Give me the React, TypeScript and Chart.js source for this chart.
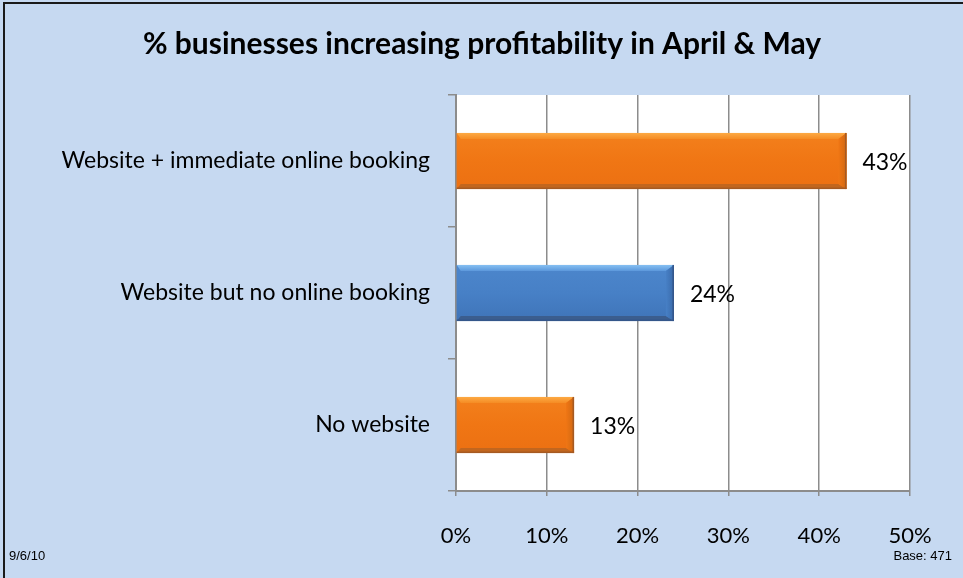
import React, { useEffect, useRef } from "react";
import { Chart, registerables } from "chart.js";

Chart.register(...registerables);

const TITLE = "% businesses increasing profitability in April & May";
const CATEGORIES = [
  "Website + immediate online booking",
  "Website but no online booking",
  "No website",
];
const VALUES = [43, 24, 13];
const BAR_THEMES = ["orange", "blue", "orange"];
const X_TICKS = [0, 10, 20, 30, 40, 50];
const DATE_NOTE = "9/6/10";
const BASE_NOTE = "Base: 471";

const THEMES: Record<string, any> = {
  orange: {
    body: "#F07614",
    bodyTop: "#F3801C",
    bodyBottom: "#EC7012",
    topA: "#FDAA44",
    topB: "#F58C24",
    right: "#D06812",
    bottom: "#C2661E",
    outline: "#A65A22",
  },
  blue: {
    body: "#4780C6",
    bodyTop: "#4C86CC",
    bodyBottom: "#3F74B8",
    topA: "#86C0F2",
    topB: "#5C98DC",
    right: "#3A6AAA",
    bottom: "#3B5D8E",
    outline: "#34568A",
  },
};

const BG = "#C6D9F1";

export default function App() {
  const canvasRef = useRef<HTMLCanvasElement | null>(null);

  useEffect(() => {
    document.body.style.margin = "0";
    document.body.style.background = BG;
    const canvas = canvasRef.current;
    if (!canvas) return;

    const decor = {
      id: "decor",
      beforeDraw(chart: any) {
        const { ctx } = chart;
        const xs = chart.scales.x;
        const ys = chart.scales.y;
        ctx.save();
        ctx.fillStyle = BG;
        ctx.fillRect(0, 0, chart.width, chart.height);
        ctx.fillStyle = "#FFFFFF";
        const l = xs.getPixelForValue(0);
        const r = xs.getPixelForValue(50);
        ctx.fillRect(l, ys.top, r - l, ys.bottom - ys.top);
        // outer frame (top & left visible)
        ctx.fillStyle = "#1A1A1A";
        ctx.fillRect(3, 2, chart.width, 2);
        ctx.fillRect(3, 2, 2, chart.height);
        ctx.restore();
      },
      afterDatasetsDraw(chart: any) {
        const { ctx } = chart;
        const meta = chart.getDatasetMeta(0);
        ctx.save();
        meta.data.forEach((el: any, i: number) => {
          const p = el.getProps(["x", "y", "base", "height"], true);
          const th = THEMES[BAR_THEMES[i]];
          const L = Math.min(p.base, p.x);
          const R = Math.max(p.base, p.x);
          const T = p.y - p.height / 2;
          const B = p.y + p.height / 2;
          const bt = 6;
          const bb = 5;
          const br = 8;
          // body
          const g = ctx.createLinearGradient(0, T, 0, B);
          g.addColorStop(0, th.bodyTop);
          g.addColorStop(0.5, th.body);
          g.addColorStop(1, th.bodyBottom);
          ctx.fillStyle = g;
          ctx.fillRect(L, T, R - L, B - T);
          // top bevel
          const gt = ctx.createLinearGradient(0, T, 0, T + bt);
          gt.addColorStop(0, th.topA);
          gt.addColorStop(1, th.topB);
          ctx.fillStyle = gt;
          ctx.beginPath();
          ctx.moveTo(L, T);
          ctx.lineTo(R, T);
          ctx.lineTo(R - br, T + bt);
          ctx.lineTo(L + 4, T + bt);
          ctx.closePath();
          ctx.fill();
          // bottom bevel
          ctx.fillStyle = th.bottom;
          ctx.beginPath();
          ctx.moveTo(L, B);
          ctx.lineTo(R, B);
          ctx.lineTo(R - br, B - bb);
          ctx.lineTo(L + 4, B - bb);
          ctx.closePath();
          ctx.fill();
          // right bevel
          const gr = ctx.createLinearGradient(R - br, 0, R, 0);
          gr.addColorStop(0, th.body);
          gr.addColorStop(1, th.right);
          ctx.fillStyle = gr;
          ctx.beginPath();
          ctx.moveTo(R, T);
          ctx.lineTo(R, B);
          ctx.lineTo(R - br, B - bb);
          ctx.lineTo(R - br, T + bt);
          ctx.closePath();
          ctx.fill();
          // outline bottom & right
          ctx.fillStyle = th.outline;
          ctx.fillRect(L, B - 1.5, R - L, 1.5);
          ctx.fillRect(R - 1.5, T, 1.5, B - T);
          // data label
          ctx.fillStyle = "#000000";
          ctx.font = "23px Lato";
          ctx.textAlign = "left";
          ctx.textBaseline = "middle";
          ctx.fillText(VALUES[i] + "%", R + 16, p.y + 2);
        });
        ctx.restore();
      },
      afterDraw(chart: any) {
        const { ctx } = chart;
        ctx.save();
        ctx.fillStyle = "#000000";
        ctx.font = "bold 30px Lato";
        ctx.textAlign = "center";
        ctx.textBaseline = "middle";
        ctx.fillText(TITLE, 482, 44);
        ctx.font = "13px 'Liberation Sans'";
        ctx.textBaseline = "alphabetic";
        ctx.textAlign = "left";
        ctx.fillText(DATE_NOTE, 9, 560);
        ctx.textAlign = "right";
        ctx.fillText(BASE_NOTE, 952, 560);
        ctx.restore();
      },
    };

    const chart = new Chart(canvas, {
      type: "bar",
      data: {
        labels: CATEGORIES,
        datasets: [
          {
            data: VALUES,
            backgroundColor: BAR_THEMES.map((t) => THEMES[t].body),
            borderWidth: 0,
            categoryPercentage: 1,
            barPercentage: 0.425,
          },
        ],
      },
      options: {
        indexAxis: "y",
        responsive: false,
        animation: false,
        layout: { padding: { top: 95, right: 53, left: 0, bottom: 0 } },
        plugins: {
          legend: { display: false },
          title: { display: false },
          tooltip: { enabled: false },
        },
        scales: {
          x: {
            min: 0,
            max: 50,
            afterFit: (s: any) => {
              s.height = 87;
            },
            afterBuildTicks: (s: any) => {
              s.ticks = X_TICKS.map((v) => ({ value: v }));
            },
            ticks: {
              callback: (v: any) => v + "%",
              color: "#000000",
              font: { family: "Lato", size: 22 },
              padding: 27,
              maxRotation: 0,
            },
            grid: {
              color: "#8C8C8C",
              lineWidth: 1.5,
              tickLength: 5,
              drawTicks: true,
            },
            border: { color: "#8C8C8C", width: 2 },
          },
          y: {
            afterFit: (s: any) => {
              s.width = 456;
            },
            ticks: {
              color: "#000000",
              font: { family: "Lato", size: 23 },
              padding: 18,
            },
            grid: {
              offset: true,
              drawOnChartArea: false,
              drawTicks: true,
              tickLength: 8,
              color: "#8C8C8C",
              lineWidth: 1.5,
            },
            border: { color: "#8C8C8C", width: 2 },
          },
        },
      },
      plugins: [decor],
    });

    return () => {
      chart.destroy();
    };
  }, []);

  return (
    <div style={{ width: 963, height: 578 }}>
      <canvas ref={canvasRef} width={963} height={578} style={{ display: "block" }} />
    </div>
  );
}
